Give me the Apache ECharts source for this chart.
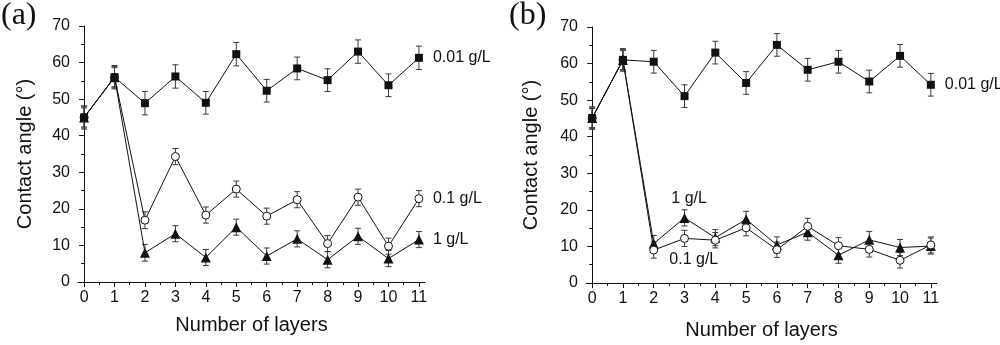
<!DOCTYPE html>
<html><head><meta charset="utf-8">
<script src="https://cdn.jsdelivr.net/npm/echarts@6/dist/echarts.min.js"></script>
<style>html,body{margin:0;padding:0;background:#fff}#c{width:1000px;height:345px}</style>
</head><body><div id="c"></div>
<script>
// ---- data ----
const layers = [0,1,2,3,4,5,6,7,8,9,10,11];
const xTickValues = [0,1,2,3,4,5,6,7,8,9,10,11];
const xMinorTickValues = [0.5,1.5,2.5,3.5,4.5,5.5,6.5,7.5,8.5,9.5,10.5];
const yTickLabels = [0,10,20,30,40,50,60,70];
const seriesNames = ['0.01 g/L','0.1 g/L','1 g/L'];
const panelLabels = ['(a)','(b)'];

const a001 = [45.0,56.0,48.9,56.2,49.0,62.3,52.3,58.4,55.2,63.0,53.8,61.3];
const a001Err = [3.2,3.2,3.2,3.2,3.1,3.2,3.1,3.1,3.1,3.2,3.1,3.2];
const a01 = [45.0,56.0,16.9,34.3,18.3,25.4,18.0,22.5,10.5,23.2,9.8,22.8];
const a01Err = [2.6,2.9,2.3,2.2,2.2,2.2,2.2,2.2,2.2,2.2,2.2,2.2];
const a1 = [45.0,56.0,8.0,13.2,6.7,15.0,7.1,11.8,6.1,12.5,6.4,11.6];
const a1Err = [2.9,2.6,2.3,2.2,2.2,2.2,2.2,2.2,2.2,2.2,2.2,2.2];

const b001 = [45.1,61.0,60.5,51.1,63.0,54.7,65.1,58.3,60.5,55.1,62.1,54.2];
const b001Err = [3.1,3.1,3.1,3.1,3.1,3.1,3.1,3.1,3.1,3.1,3.1,3.1];
const b01 = [45.1,61.0,9.0,12.2,11.7,15.1,9.1,15.5,10.2,9.2,6.2,10.4];
const b01Err = [2.6,2.8,2.2,2.2,2.1,2.2,2.1,2.2,2.2,2.1,2.1,2.2];
const b1 = [45.1,61.0,10.8,17.8,12.4,17.4,10.4,13.9,7.6,11.8,9.7,10.1];
const b1Err = [2.8,2.6,2.2,2.2,2.2,2.2,2.2,2.2,2.2,2.3,2.2,2.2];

// annotation positions for panel (b) labels in data coordinates
const bLabel1 = [3.15, 23.2];
const bLabel01 = [3.3, 6.5];

// ---- chart ----
const chart = echarts.init(document.getElementById('c'), null, {renderer:'canvas'});
const FONT = '"Liberation Sans", Arial, sans-serif';
const BLACK = '#111';

function pairs(vals){ return layers.map((x,i)=>[x, vals[i]]); }
function errData(vals, errs){ return layers.map((x,i)=>[x, vals[i], errs[i]]); }

function errSeries(idx, vals, errs){
  return {
    type:'custom', xAxisIndex: idx*2, yAxisIndex: idx, z: 1, silent:true,
    data: errData(vals, errs),
    renderItem: function(params, api){
      const x = api.value(0), v = api.value(1), e = api.value(2);
      const top = api.coord([x, v+e]);
      const bot = api.coord([x, v-e]);
      const w = 3;
      const st = {stroke:'#3a3a3a', lineWidth:1};
      return {type:'group', children:[
        {type:'line', shape:{x1:top[0], y1:top[1], x2:bot[0], y2:bot[1]}, style:st},
        {type:'line', shape:{x1:top[0]-w, y1:top[1], x2:top[0]+w, y2:top[1]}, style:st},
        {type:'line', shape:{x1:bot[0]-w, y1:bot[1], x2:bot[0]+w, y2:bot[1]}, style:st}
      ]};
    }
  };
}

function lineSeries(idx, name, vals, symbol, size, filled, endLabel, z){
  const s = {
    type:'line', name:name, xAxisIndex: idx*2, yAxisIndex: idx, z: z,
    data: pairs(vals), symbol: symbol, symbolSize: size, showAllSymbol:true,
    lineStyle:{color:BLACK, width:1},
    itemStyle:{color: filled ? BLACK : '#fff', borderColor:BLACK, borderWidth: filled?0:1},
    emphasis:{disabled:true}
  };
  if (endLabel) {
    s.endLabel = {show:true, formatter: name, color:BLACK, fontFamily:FONT, fontSize:16, distance:14};
  }
  return s;
}

const grids = [
  {left:78, right:575, top:26, bottom:63},
  {left:586, right:63, top:27, bottom:59}
];

function xAxes(idx, nameGap){
  return [
    {type:'value', gridIndex: idx, min:-0.2, max:11.2,
     name:'Number of layers', nameLocation:'middle', nameGap:nameGap,
     nameTextStyle:{fontFamily:FONT, fontSize:20, color:BLACK},
     axisLine:{show:true, lineStyle:{color:BLACK, width:1}},
     axisTick:{show:true, customValues:xTickValues, length:5, lineStyle:{color:BLACK}},
     axisLabel:{customValues:xTickValues, fontFamily:FONT, fontSize:16, color:BLACK, margin:8},
     splitLine:{show:false}},
    {type:'value', gridIndex: idx, min:-0.2, max:11.2, position:'bottom',
     axisLine:{show:false},
     axisTick:{show:true, customValues:xMinorTickValues, length:3, lineStyle:{color:BLACK}},
     axisLabel:{show:false}, splitLine:{show:false}}
  ];
}
function yAxis(idx, nameGap){
  return {type:'value', gridIndex: idx, min:0, max:70, interval:10,
    name:'Contact angle (°)', nameLocation:'middle', nameGap:nameGap,
    nameTextStyle:{fontFamily:FONT, fontSize:20, color:BLACK},
    axisLine:{show:true, lineStyle:{color:BLACK, width:1}},
    axisTick:{show:true, length:5, lineStyle:{color:BLACK}},
    minorTick:{show:true, splitNumber:2, length:3, lineStyle:{color:BLACK}},
    axisLabel:{fontFamily:FONT, fontSize:16, color:BLACK, margin:8,
      customValues: yTickLabels},
    splitLine:{show:false}, minorSplitLine:{show:false}};
}

const PANEL_FONT = '32px "Liberation Serif", "Times New Roman", serif';
const option = {
  animation:false,
  backgroundColor:'#fff',
  grid: grids,
  xAxis: [].concat(xAxes(0, 33), xAxes(1, 37)),
  yAxis: [yAxis(0, 43), yAxis(1, 45)],
  series: [
    errSeries(0, a001, a001Err), errSeries(0, a01, a01Err), errSeries(0, a1, a1Err),
    lineSeries(0, seriesNames[0], a001, 'rect', 8, true, true, 5),
    lineSeries(0, seriesNames[1], a01, 'circle', 8, false, true, 4),
    lineSeries(0, seriesNames[2], a1, 'triangle', 10, true, true, 3),
    errSeries(1, b001, b001Err), errSeries(1, b01, b01Err), errSeries(1, b1, b1Err),
    lineSeries(1, seriesNames[0], b001, 'rect', 8, true, true, 5),
    lineSeries(1, seriesNames[1], b01, 'circle', 8, false, false, 4),
    lineSeries(1, seriesNames[2], b1, 'triangle', 10, true, false, 3)
  ]
};
chart.setOption(option);

const p1 = chart.convertToPixel({xAxisIndex:2, yAxisIndex:1}, bLabel1);
const p01 = chart.convertToPixel({xAxisIndex:2, yAxisIndex:1}, bLabel01);
const labelStyle = (t)=>({text:t, fontFamily:FONT, fontSize:16, fill:BLACK, align:'center', verticalAlign:'middle'});
chart.setOption({
  graphic: [
    {type:'text', left:1, top:0, style:{text:panelLabels[0], font:PANEL_FONT, fill:BLACK}},
    {type:'text', left:509, top:0, style:{text:panelLabels[1], font:PANEL_FONT, fill:BLACK}},
    {type:'text', x:p1[0], y:p1[1], z:10, style:labelStyle(seriesNames[2])},
    {type:'text', x:p01[0], y:p01[1], z:10, style:labelStyle(seriesNames[1])}
  ]
});
</script></body></html>
